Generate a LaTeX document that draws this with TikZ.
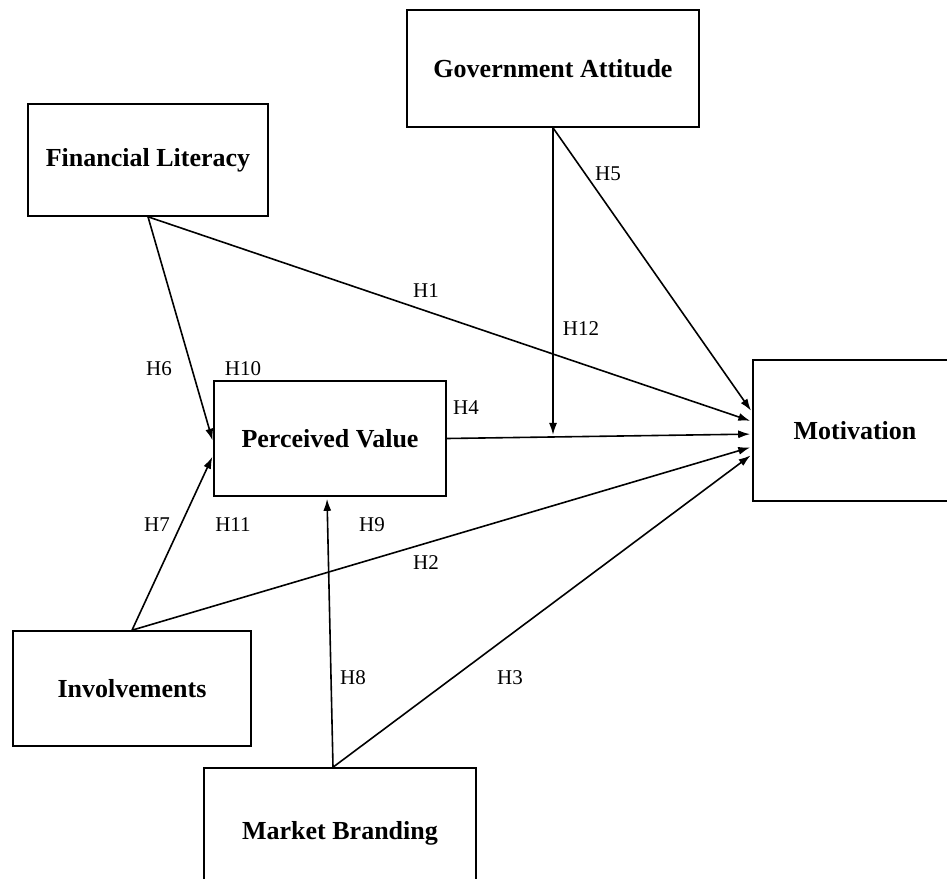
\documentclass[tikz,border=0pt]{standalone}
\usepackage{fontspec}
\setmainfont{Liberation Serif}
\usetikzlibrary{arrows.meta}

\begin{document}
\begin{tikzpicture}[x=1pt,y=-1pt,line width=1.6pt,shorten >=2pt,>={Latex[length=12pt,width=8pt]},
	box/.style={draw, rectangle, inner sep=0pt, font=\fontsize{26}{30}\selectfont\bfseries},
	hyp/.style={inner sep=0pt, font=\fontsize{21}{25}\selectfont}]
	\clip (0,0) rectangle (947,878);
	\node (GA)	at (553, 68.5)	[box, minimum width=292, minimum height=117]	{Government Attitude};
	\node (FL)	at (148, 160)	[box, minimum width=240, minimum height=112]	{Financial Literacy};
	\node (PV)	at (330, 438.5)	[box, minimum width=232, minimum height=115]	{Perceived Value};
	\node (Mot)	at (855, 430.5)	[box, minimum width=204, minimum height=141]	{Motivation};
	\node (Inv)	at (132, 688.5)	[box, minimum width=238, minimum height=115]	{Involvements};
	\node (MB)	at (340, 833)	[box, minimum width=272, minimum height=130]	{Market Branding};
	% hypotheses
	\node (h1)	at (426, 291)	[hyp]	{H1};
	\node (h2)	at (426, 563)	[hyp]	{H2};
	\node (h3)	at (510, 678)	[hyp]	{H3};
	\node (h4)	at (466, 408)	[hyp]	{H4};
	\node (h5)	at (608, 174)	[hyp]	{H5};
	\node (h6)	at (159, 369)	[hyp]	{H6};
	\node (h7)	at (157, 525)	[hyp]	{H7};
	\node (h8)	at (353, 678)	[hyp]	{H8};
	\node (h9)	at (372, 525)	[hyp]	{H9};
	\node (h10)	at (243, 369)	[hyp]	{H10};
	\node (h11)	at (233, 525)	[hyp]	{H11};
	\node (h12)	at (581, 329)	[hyp]	{H12};
	\draw[->] (FL.south) -- (Mot.175);
	\draw[->] (FL.south) -- (PV.182);
	\draw[->] (GA.south) -- (Mot.170);
	\draw[->] (PV.east) -- coordinate[pos=0.35] (mod) (Mot.182);
	\draw[->] (GA.south) -- (GA.south |- mod);
	\draw[->] (Inv.north) -- (PV.188);
	\draw[->] (Inv.north) -- (Mot.189);
	\draw[->] ([xshift=-7pt]MB.north) -- ([xshift=-3pt]PV.south);
	\draw[->] ([xshift=-7pt]MB.north) -- (Mot.193.5);
\end{tikzpicture}
\end{document}
